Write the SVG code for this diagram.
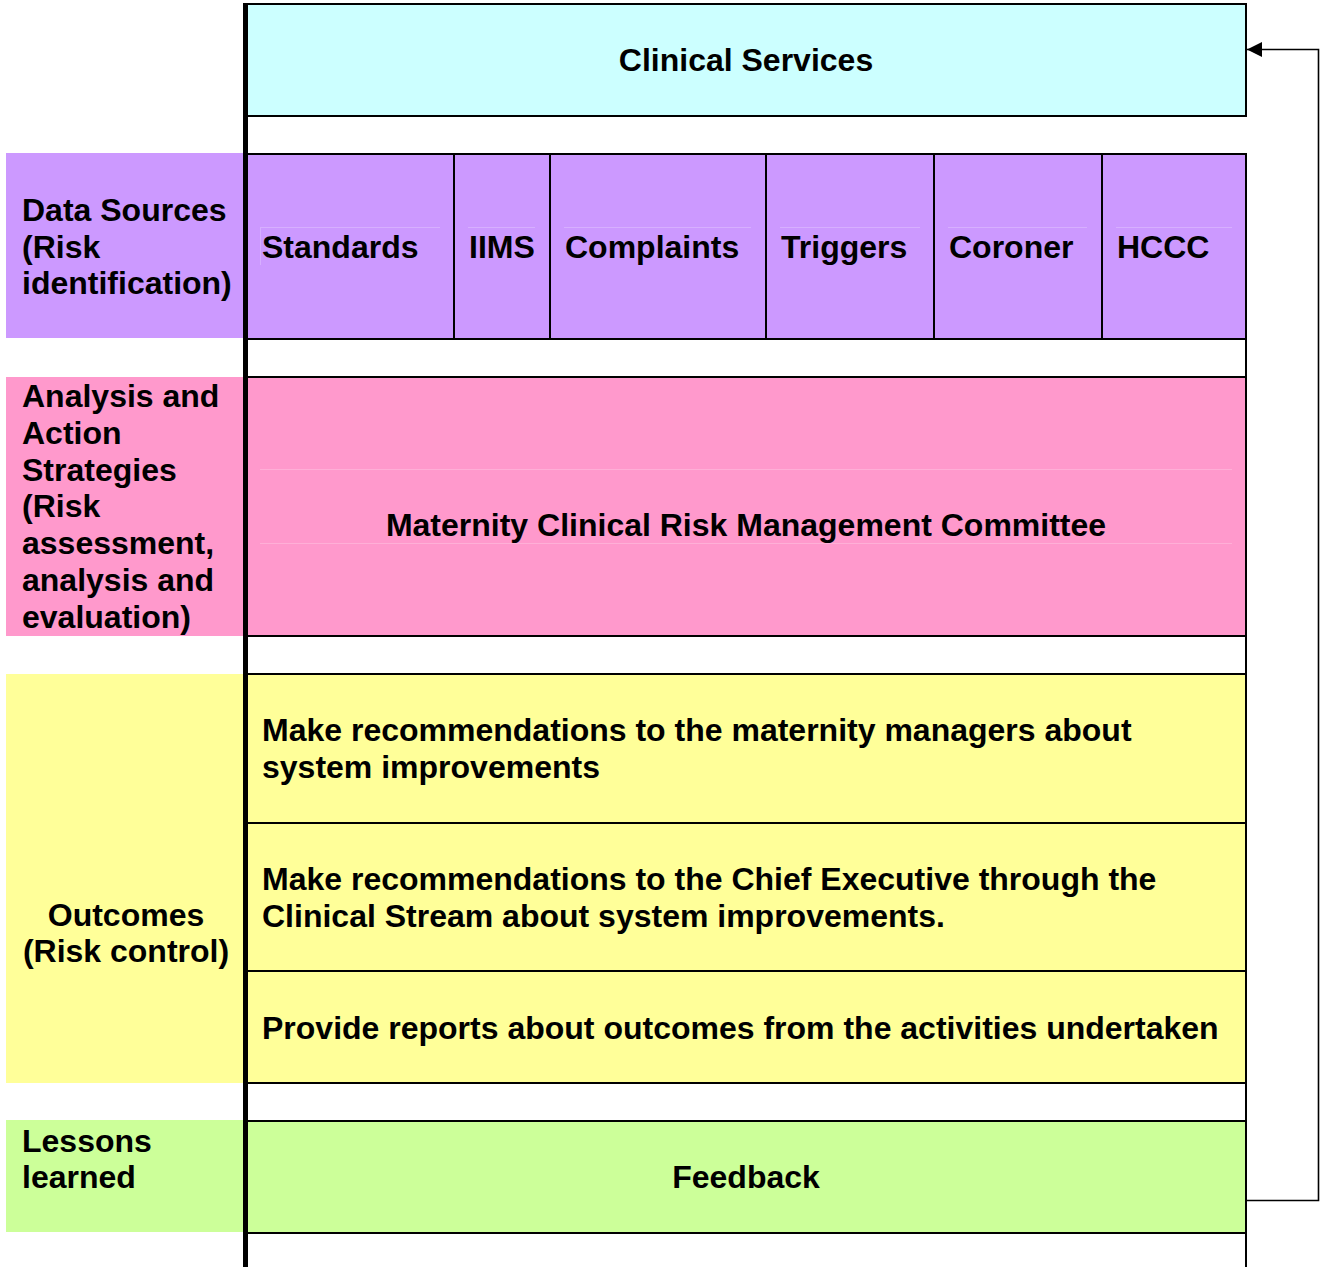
<svg xmlns="http://www.w3.org/2000/svg" width="1327" height="1267" viewBox="0 0 1327 1267">
<style>
.t{font-family:"Liberation Sans",Arial,Helvetica,sans-serif;font-weight:bold;font-size:32px;fill:#000}
.m{text-anchor:middle}
.b{stroke:#000;stroke-width:2}
.d{stroke:#000;stroke-width:2;fill:none}
.f{stroke:#ffffff;stroke-opacity:0.22;stroke-width:1;fill:none}
.conn{stroke:#000;stroke-width:1.6;fill:none}
</style>
<defs>
<marker id="ah" markerUnits="userSpaceOnUse" markerWidth="16" markerHeight="16" refX="15" refY="7.5" orient="auto">
<path d="M0,0 L15,7.5 L0,15 z" fill="#000"/>
</marker>
</defs>
<rect x="0" y="0" width="1327" height="1267" fill="#fff"/>

<g id="label-data-sources">
<rect x="6" y="153" width="237" height="185" fill="#CC99FF"/>
<text class="t" x="22" y="220.7">Data Sources</text>
<text class="t" x="22" y="257.5">(Risk</text>
<text class="t" x="22" y="293.5">identification)</text>
</g>
<g id="label-analysis">
<rect x="6" y="377" width="237" height="259" fill="#FF99CC"/>
<text class="t" x="22" y="407">Analysis and</text>
<text class="t" x="22" y="443.8">Action</text>
<text class="t" x="22" y="480.6">Strategies</text>
<text class="t" x="22" y="517.4">(Risk</text>
<text class="t" x="22" y="554.2">assessment,</text>
<text class="t" x="22" y="591">analysis and</text>
<text class="t" x="22" y="627.8">evaluation)</text>
</g>
<g id="label-outcomes">
<rect x="6" y="674" width="237" height="409" fill="#FFFF99"/>
<text class="t m" x="126" y="926">Outcomes</text>
<text class="t m" x="126" y="962">(Risk control)</text>
</g>
<g id="label-lessons">
<rect x="6" y="1120" width="237" height="112" fill="#CCFF99"/>
<text class="t" x="22" y="1151.7">Lessons</text>
<text class="t" x="22" y="1187.5">learned</text>
</g>

<g id="clinical-services">
<rect class="b" x="246" y="4" width="1000" height="112" fill="#CCFFFF"/>
<text class="t m" x="746" y="71">Clinical Services</text>
</g>

<g id="data-sources">
<rect class="b" x="246" y="154" width="1000" height="185" fill="#CC99FF"/>
<line class="d" x1="454" y1="154" x2="454" y2="339"/>
<line class="d" x1="550" y1="154" x2="550" y2="339"/>
<line class="d" x1="766" y1="154" x2="766" y2="339"/>
<line class="d" x1="934" y1="154" x2="934" y2="339"/>
<line class="d" x1="1102" y1="154" x2="1102" y2="339"/>
<path class="f" d="M260,227.5H440M468,227.5H535M564,227.5H751M780,227.5H920M948,227.5H1087M1116,227.5H1232M260.5,228V265"/>
<g id="standards"><text class="t" x="262" y="257.5">Standards</text></g>
<g id="iims"><text class="t" x="469" y="257.5">IIMS</text></g>
<g id="complaints"><text class="t" x="565" y="257.5">Complaints</text></g>
<g id="triggers"><text class="t" x="781" y="257.5">Triggers</text></g>
<g id="coroner"><text class="t" x="949" y="257.5">Coroner</text></g>
<g id="hccc"><text class="t" x="1117" y="257.5">HCCC</text></g>
</g>

<g id="committee">
<rect class="b" x="246" y="377" width="1000" height="259" fill="#FF99CC"/>
<path class="f" d="M260,469.5H1232M260,543.5H1232"/>
<text class="t m" x="746" y="536">Maternity Clinical Risk Management Committee</text>
</g>

<g id="outcomes">
<rect class="b" x="246" y="674" width="1000" height="409" fill="#FFFF99"/>
<line class="d" x1="246" y1="823" x2="1246" y2="823"/>
<line class="d" x1="246" y1="971" x2="1246" y2="971"/>
<g id="outcome-1">
<text class="t" x="262" y="740.7">Make recommendations to the maternity managers about</text>
<text class="t" x="262" y="777.5">system improvements</text>
</g>
<g id="outcome-2">
<text class="t" x="262" y="890">Make recommendations to the Chief Executive through the</text>
<text class="t" x="262" y="926.7">Clinical Stream about system improvements.</text>
</g>
<g id="outcome-3">
<text class="t" x="262" y="1039">Provide reports about outcomes from the activities undertaken</text>
</g>
</g>

<g id="feedback">
<rect class="b" x="246" y="1121" width="1000" height="112" fill="#CCFF99"/>
<text class="t m" x="746" y="1188">Feedback</text>
</g>

<line class="d" x1="1246" y1="154" x2="1246" y2="1267"/>
<rect x="243" y="3" width="5" height="1264" fill="#000"/>

<g id="connectors">
<path class="conn" d="M1247,1200.5 H1318.5 V49.5 H1247" marker-end="url(#ah)"/>
</g>
</svg>
